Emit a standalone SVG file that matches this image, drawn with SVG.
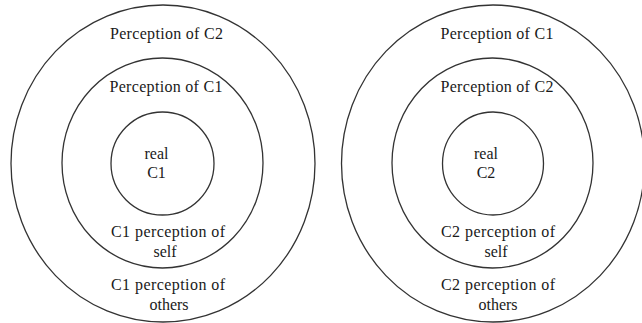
<svg xmlns="http://www.w3.org/2000/svg" width="642" height="323" viewBox="0 0 642 323">
<style>
.ring{fill:none;stroke:#333;stroke-width:1.3}
text{font-family:"Liberation Serif","Times New Roman",serif;font-size:16px;fill:#1a1a1a;text-anchor:middle}
</style>
<rect width="642" height="323" fill="#fff"/>
<g id="left">
<g id="left-outer"><ellipse class="ring" cx="163" cy="163.5" rx="152" ry="158.5"/>
<text x="166.5" y="39" textLength="113">Perception of C2</text>
<text x="168" y="290" textLength="114">C1 perception of</text>
<text x="169" y="310">others</text></g>
<g id="left-middle"><ellipse class="ring" cx="162.5" cy="163" rx="100.5" ry="105"/>
<text x="166" y="92" textLength="113">Perception of C1</text>
<text x="168" y="237" textLength="114">C1 perception of</text>
<text x="165" y="257">self</text></g>
<g id="left-inner"><ellipse class="ring" cx="162.5" cy="163.5" rx="51.5" ry="51.5"/>
<text x="156.5" y="159">real</text>
<text x="156.5" y="178">C1</text></g>
</g>
<g id="right">
<g id="right-outer"><ellipse class="ring" cx="493" cy="163.5" rx="151.5" ry="158.5"/>
<text x="497" y="39" textLength="113">Perception of C1</text>
<text x="498" y="290" textLength="114">C2 perception of</text>
<text x="498" y="310">others</text></g>
<g id="right-middle"><ellipse class="ring" cx="492.5" cy="163" rx="100.5" ry="105"/>
<text x="497" y="92" textLength="113">Perception of C2</text>
<text x="498" y="237" textLength="114">C2 perception of</text>
<text x="496" y="257">self</text></g>
<g id="right-inner"><ellipse class="ring" cx="493" cy="163.5" rx="50.5" ry="51.5"/>
<text x="486" y="159">real</text>
<text x="486" y="178">C2</text></g>
</g>
<g id="connectors"/>
</svg>
